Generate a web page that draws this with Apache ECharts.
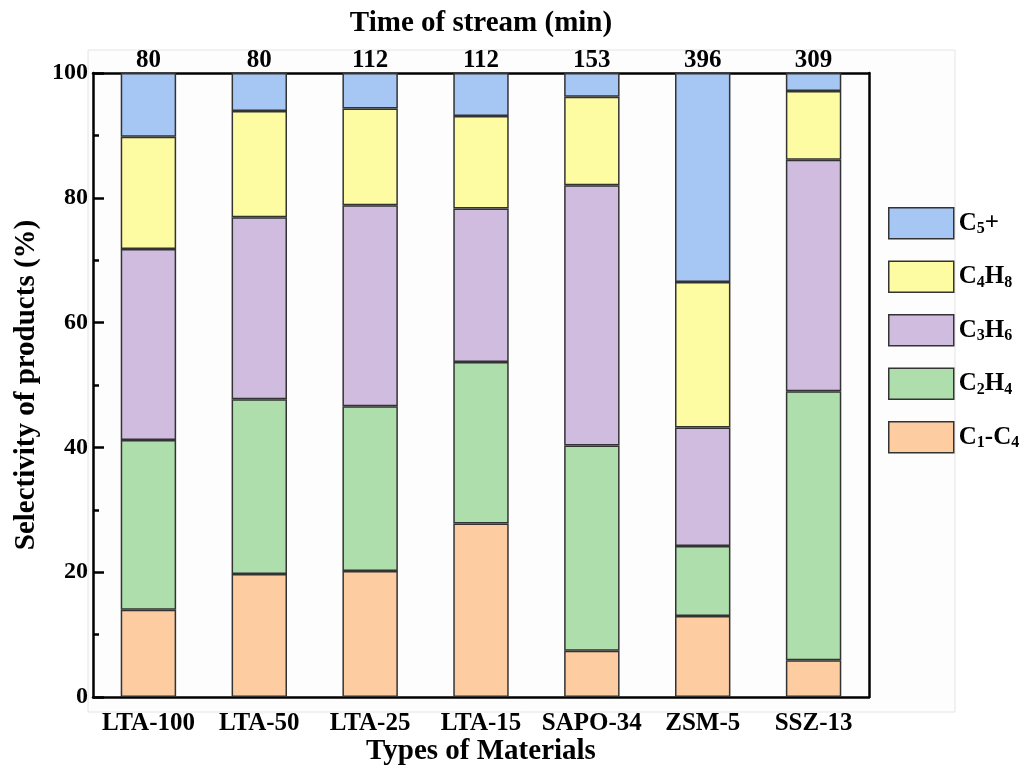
<!DOCTYPE html>
<html>
<head>
<meta charset="utf-8">
<script src="https://cdn.jsdelivr.net/npm/echarts@6/dist/echarts.min.js"></script>
<style>html,body{margin:0;padding:0;background:#fff;}#c{width:1022px;height:765px;}</style>
</head>
<body>
<div id="c"></div>
<script>
const categories = ['LTA-100', 'LTA-50', 'LTA-25', 'LTA-15', 'SAPO-34', 'ZSM-5', 'SSZ-13'];
const streamTimes = ['80', '80', '112', '112', '153', '396', '309'];
const c1c4 = [14.0, 19.7, 20.2, 27.8, 7.4, 13.0, 5.9];
const c2h4 = [27.2, 28.0, 26.4, 25.9, 32.9, 11.2, 43.1];
const c3h6 = [30.6, 29.2, 32.2, 24.6, 41.7, 19.0, 37.1];
const c4h8 = [18.0, 17.0, 15.5, 14.8, 14.2, 23.3, 11.0];
const c5plus = [10.2, 6.1, 5.7, 6.9, 3.8, 33.5, 2.9];
const yTicks = [0, 20, 40, 60, 80, 100];

const FONT = 'Liberation Serif';
const seriesDefs = [
  {name: 'C1-C4', data: c1c4, color: '#fdcca1'},
  {name: 'C2H4', data: c2h4, color: '#aedeac'},
  {name: 'C3H6', data: c3h6, color: '#cfbcde'},
  {name: 'C4H8', data: c4h8, color: '#fefca2'},
  {name: 'C5+', data: c5plus, color: '#a6c6f4'}
];
const legendRich = {
  'C5+': '{b|C}{s|5}{b|+}',
  'C4H8': '{b|C}{s|4}{b|H}{s|8}',
  'C3H6': '{b|C}{s|3}{b|H}{s|6}',
  'C2H4': '{b|C}{s|2}{b|H}{s|4}',
  'C1-C4': '{b|C}{s|1}{b|-C}{s|4}'
};
const chart = echarts.init(document.getElementById('c'), null, {renderer: 'canvas'});
const axisLineStyle = {color: '#000', width: 2.5};
chart.setOption({
  backgroundColor: '#ffffff',
  animation: false,
  graphic: [{
    type: 'rect', z: -10, silent: true,
    shape: {x: 88, y: 50, width: 867, height: 662},
    style: {fill: '#fdfdfd', stroke: '#e4e4e4', lineWidth: 1}
  }],
  grid: {left: 93, right: 153, top: 73, bottom: 68, containLabel: false, outerBoundsMode: 'none'},
  legend: {
    orient: 'vertical',
    left: 883, top: 202,
    icon: 'rect',
    itemWidth: 65, itemHeight: 31, itemGap: 21,
    data: ['C5+', 'C4H8', 'C3H6', 'C2H4', 'C1-C4'],
    formatter: function (n) { return legendRich[n]; },
    textStyle: {
      fontFamily: FONT, color: '#000', fontSize: 25,
      rich: {
        b: {fontFamily: FONT, fontSize: 25, fontWeight: 'bold', color: '#000'},
        s: {fontFamily: FONT, fontSize: 16, fontWeight: 'bold', color: '#000', padding: [12, 0, 0, 0]}
      }
    },
    itemStyle: {borderColor: '#333', borderWidth: 1.5}
  },
  xAxis: [{
    type: 'category', position: 'bottom', data: categories,
    axisLine: {onZero: false, lineStyle: axisLineStyle}, axisTick: {show: false},
    axisLabel: {fontFamily: FONT, fontWeight: 'bold', fontSize: 25, color: '#000', margin: 14, interval: 0},
    name: 'Types of Materials', nameLocation: 'middle', nameGap: 40, nameMoveOverlap: false,
    nameTextStyle: {fontFamily: FONT, fontWeight: 'bold', fontSize: 29, color: '#000'}
  }, {
    type: 'category', position: 'top', data: streamTimes,
    axisLine: {onZero: false, lineStyle: axisLineStyle}, axisTick: {show: false},
    axisLabel: {fontFamily: FONT, fontWeight: 'bold', fontSize: 25, color: '#000', margin: 0, interval: 0},
    name: 'Time of stream (min)', nameLocation: 'middle', nameGap: 35,
    nameTextStyle: {fontFamily: FONT, fontWeight: 'bold', fontSize: 29, color: '#000'}
  }],
  yAxis: [{
    type: 'value', position: 'left', min: 0, max: 100, interval: 20,
    axisLine: {show: true, onZero: false, lineStyle: axisLineStyle},
    axisTick: {show: true, inside: true, length: 11, lineStyle: {color: '#000', width: 2.5}},
    minorTick: {show: true, splitNumber: 2, length: 6, lineStyle: {color: '#000', width: 2.5}},
    splitLine: {show: false},
    axisLabel: {fontFamily: FONT, fontWeight: 'bold', fontSize: 24, color: '#000', margin: 5,
      formatter: function (v) { return yTicks.indexOf(v) >= 0 ? String(v) : ''; }},
    name: 'Selectivity of products (%)', nameLocation: 'middle', nameGap: 48,
    nameTextStyle: {fontFamily: FONT, fontWeight: 'bold', fontSize: 29, color: '#000'}
  }, {
    type: 'value', position: 'right', min: 0, max: 100, interval: 20,
    axisLine: {show: true, onZero: false, lineStyle: axisLineStyle},
    axisTick: {show: false}, axisLabel: {show: false}, splitLine: {show: false}
  }],
  series: seriesDefs.map(function (s) {
    return {
      name: s.name, type: 'bar', stack: 'total', data: s.data,
      xAxisIndex: 0, yAxisIndex: 0, barWidth: '50%',
      itemStyle: {color: s.color, borderColor: '#333', borderWidth: 1.5}
    };
  })
});
</script>
</body>
</html>
